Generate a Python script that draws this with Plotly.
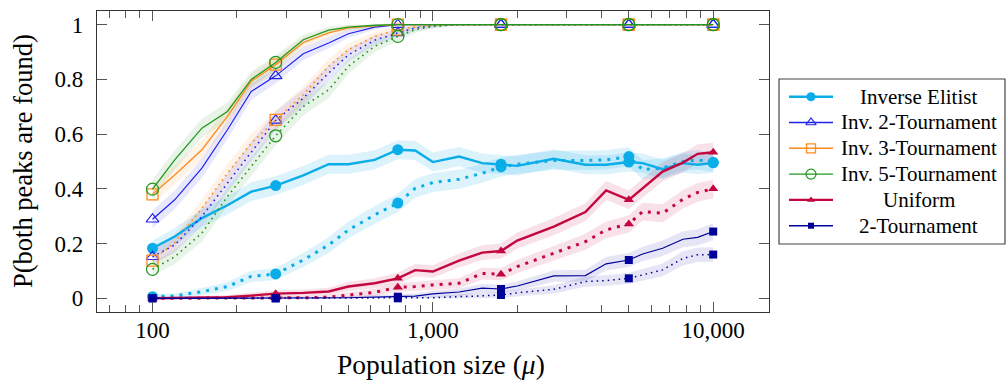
import plotly.graph_objects as go
import numpy as np

# ---------------- data ----------------
pop_size = [100, 120, 150, 185, 225, 275, 345, 425, 500, 620, 750, 865, 1000,
            1240, 1500, 1750, 2000, 2700, 3500, 4150, 5000, 5600, 6600, 7800, 8800, 10000]

ie_solid = [0.183, 0.226, 0.293, 0.340, 0.390, 0.412, 0.449, 0.490, 0.490, 0.506, 0.543, 0.540, 0.498,
            0.518, 0.494, 0.490, 0.484, 0.510, 0.488, 0.488, 0.498, 0.494, 0.472, 0.494, 0.488, 0.495]
ie_dotted = [0.006, 0.009, 0.024, 0.043, 0.080, 0.089, 0.140, 0.195, 0.250, 0.305, 0.348, 0.402, 0.423,
             0.435, 0.457, 0.480, 0.490, 0.504, 0.504, 0.506, 0.518, 0.470, 0.476, 0.500, 0.506, 0.497]

inv2_solid = [0.289, 0.360, 0.476, 0.616, 0.756, 0.813, 0.894, 0.933, 0.967, 0.991, 1.0, 1.0, 1.0,
              1.0, 1.0, 1.0, 1.0, 1.0, 1.0, 1.0, 1.0, 1.0, 1.0, 1.0, 1.0, 1.0]
inv2_dotted = [0.152, 0.195, 0.299, 0.420, 0.537, 0.650, 0.732, 0.823, 0.890, 0.943, 0.970, 0.988, 0.996,
               1.0, 1.0, 1.0, 1.0, 1.0, 1.0, 1.0, 1.0, 1.0, 1.0, 1.0, 1.0, 1.0]

inv3_solid = [0.380, 0.451, 0.543, 0.665, 0.793, 0.854, 0.935, 0.970, 0.988, 0.996, 1.0, 1.0, 1.0,
              1.0, 1.0, 1.0, 1.0, 1.0, 1.0, 1.0, 1.0, 1.0, 1.0, 1.0, 1.0, 1.0]
inv3_dotted = [0.138, 0.204, 0.329, 0.457, 0.567, 0.652, 0.744, 0.848, 0.909, 0.957, 0.982, 0.992, 0.998,
               1.0, 1.0, 1.0, 1.0, 1.0, 1.0, 1.0, 1.0, 1.0, 1.0, 1.0, 1.0, 1.0]

inv5_solid = [0.399, 0.506, 0.622, 0.683, 0.800, 0.862, 0.945, 0.980, 0.991, 0.998, 1.0, 1.0, 1.0,
              1.0, 1.0, 1.0, 1.0, 1.0, 1.0, 1.0, 1.0, 1.0, 1.0, 1.0, 1.0, 1.0]
inv5_dotted = [0.106, 0.152, 0.238, 0.372, 0.482, 0.594, 0.701, 0.762, 0.848, 0.921, 0.957, 0.982, 0.994,
               1.0, 1.0, 1.0, 1.0, 1.0, 1.0, 1.0, 1.0, 1.0, 1.0, 1.0, 1.0, 1.0]

uni_solid = [0.0, 0.001, 0.002, 0.004, 0.010, 0.017, 0.020, 0.025, 0.043, 0.055, 0.073, 0.103, 0.098,
             0.138, 0.167, 0.173, 0.211, 0.262, 0.315, 0.394, 0.360, 0.402, 0.463, 0.496, 0.528, 0.534]
uni_dotted = [0.0, 0.0, 0.0, 0.001, 0.001, 0.002, 0.002, 0.004, 0.012, 0.022, 0.040, 0.043, 0.049,
              0.055, 0.091, 0.088, 0.116, 0.165, 0.207, 0.250, 0.272, 0.317, 0.311, 0.362, 0.387, 0.400]

t2_solid = [0.0, 0.0, 0.0, 0.0, 0.0, 0.0, 0.0, 0.001, 0.002, 0.004, 0.006, 0.008, 0.016,
            0.023, 0.037, 0.034, 0.045, 0.082, 0.083, 0.126, 0.140, 0.162, 0.183, 0.216, 0.223, 0.244]
t2_dotted = [0.0, 0.0, 0.0, 0.0, 0.0, 0.0, 0.0, 0.0, 0.0, 0.0, 0.0, 0.001, 0.002,
             0.006, 0.010, 0.012, 0.020, 0.033, 0.061, 0.065, 0.073, 0.085, 0.104, 0.146, 0.159, 0.160]

names = ["Inverse Elitist", "Inv. 2-Tournament", "Inv. 3-Tournament",
         "Inv. 5-Tournament", "Uniform", "2-Tournament"]
x_ticks = [100, 1000, 10000]
x_tick_text = ["100", "1,000", "10,000"]
y_ticks = [0, 0.2, 0.4, 0.6, 0.8, 1.0]
y_tick_text = ["0", "0.2", "0.4", "0.6", "0.8", "1"]
runs = 1000  # runs per point used for the shaded confidence bands

# ---------------- styles ----------------
FONT = "Liberation Serif"
styles = [
    dict(color="#0AADE8", rgb=(10, 173, 232), w=2.4, dw=3.0, dash="3px,6px", sym="circle", size=11, lw=0, band=0.14),
    dict(color="#2222EE", rgb=(34, 34, 238), w=1.2, dw=1.6, dash="1.6px,4px", sym="triangle-up-open", size=11, lw=1.2, band=0.10),
    dict(color="#FF8A1E", rgb=(255, 138, 30), w=1.3, dw=1.6, dash="1.6px,4px", sym="square-open", size=11, lw=1.3, band=0.10),
    dict(color="#1E981E", rgb=(30, 152, 30), w=1.3, dw=1.6, dash="1.6px,4px", sym="circle-open", size=12, lw=1.2, band=0.10),
    dict(color="#C4063F", rgb=(196, 6, 63), w=2.4, dw=3.0, dash="3px,6px", sym="triangle-up", size=9, lw=0, band=0.12),
    dict(color="#00009A", rgb=(0, 0, 154), w=1.2, dw=1.5, dash="1.5px,4px", sym="square", size=8, lw=0, band=0.10),
]
series = [(ie_solid, ie_dotted), (inv2_solid, inv2_dotted), (inv3_solid, inv3_dotted),
          (inv5_solid, inv5_dotted), (uni_solid, uni_dotted), (t2_solid, t2_dotted)]

fig = go.Figure()
xs = np.array(pop_size, dtype=float)

# bands first
for (sol, dot), st in zip(series, styles):
    for vals in (sol, dot):
        p = np.array(vals)
        hw = 1.96 * np.sqrt(p * (1 - p) / runs) + 0.004 * (p > 0.001) * (p < 0.999)
        lo = np.clip(p - hw, 0, 1)
        hi = np.clip(p + hw, 0, 1)
        r, g, b = st["rgb"]
        fig.add_trace(go.Scatter(
            x=np.concatenate([xs, xs[::-1]]), y=np.concatenate([hi, lo[::-1]]),
            fill="toself", fillcolor=f"rgba({r},{g},{b},{st['band']})",
            line=dict(width=0), mode="lines", hoverinfo="skip", showlegend=False))

# lines (dotted variants beneath solids)
mark_idx = list(range(0, len(pop_size), 5))
for (sol, dot), st in zip(series, styles):
    for vals, dash, w in ((dot, st["dash"], st["dw"]), (sol, "solid", st["w"])):
        fig.add_trace(go.Scatter(x=pop_size, y=vals, mode="lines",
                                 line=dict(color=st["color"], width=w, dash=dash),
                                 showlegend=False, hoverinfo="skip"))
        fig.add_trace(go.Scatter(
            x=[pop_size[i] for i in mark_idx], y=[vals[i] for i in mark_idx], mode="markers",
            marker=dict(symbol=st["sym"], size=st["size"], color=st["color"],
                        line=dict(width=st["lw"], color=st["color"])),
            showlegend=False, hoverinfo="skip"))

# ---------------- custom legend (pixel-like axes) ----------------
row_y = [17.7, 43.5, 69.3, 95.1, 120.9, 146.7]
for name, st, ry in zip(names, styles, row_y):
    fig.add_trace(go.Scatter(x=[10, 54], y=[ry, ry], mode="lines", xaxis="x2", yaxis="y2",
                             line=dict(color=st["color"], width=st["w"] if st["w"] > 2 else 1.4),
                             showlegend=False, hoverinfo="skip"))
    fig.add_trace(go.Scatter(x=[32], y=[ry], mode="markers", xaxis="x2", yaxis="y2",
                             marker=dict(symbol=st["sym"], size=st["size"] - 2, color=st["color"],
                                         line=dict(width=st["lw"], color=st["color"])),
                             showlegend=False, hoverinfo="skip"))
    fig.add_annotation(x=140, y=ry, xref="x2", yref="y2", text=name, showarrow=False,
                       xanchor="center", yanchor="middle",
                       font=dict(family=FONT, size=21, color="black"))

fig.add_shape(type="rect", xref="x2 domain", yref="y2 domain", x0=0, x1=1, y0=0, y1=1,
              line=dict(color="#444", width=1.2), fillcolor="rgba(0,0,0,0)")

axis_common = dict(showline=True, linecolor="#333", linewidth=1.2, mirror="ticks",
                   ticks="inside", tickcolor="#555", tickwidth=1, ticklen=10,
                   showgrid=False, zeroline=False,
                   tickfont=dict(family=FONT, size=23, color="black"))

minor_vals = [70, 80, 90] + [k * 100 for k in range(2, 10)] + [k * 1000 for k in range(2, 10)]
fig.update_layout(
    width=1007, height=383,
    margin=dict(l=97, r=2, t=11, b=71),
    paper_bgcolor="white", plot_bgcolor="white",
    showlegend=False,
    font=dict(family=FONT),
    xaxis=dict(type="log", range=[1.802, 4.199], domain=[0, 0.74009],
               tickmode="array", tickvals=x_ticks, ticktext=x_tick_text,
               minor=dict(tickvals=minor_vals, ticks="inside", ticklen=7, tickcolor="#555", showgrid=False),
               ticklabelstandoff=-3, **axis_common),
    yaxis=dict(range=[-0.05, 1.05], tickmode="array", tickvals=y_ticks, ticktext=y_tick_text,
               ticklabelstandoff=8, **axis_common),
    xaxis2=dict(domain=[0.7511, 1.0], range=[0, 226], visible=False, fixedrange=True),
    yaxis2=dict(domain=[0.22591, 0.77409], range=[165, 0], visible=False, fixedrange=True,
                anchor="x2"),
)

fig.add_annotation(text="Population size (<i>μ</i>)", xref="paper", yref="paper",
                   x=(441 - 97) / 908, y=(312 - 364) / 301, xanchor="center", yanchor="middle",
                   showarrow=False, font=dict(family=FONT, size=27.5, color="black"))
fig.add_annotation(text="P(both peaks are found)", xref="paper", yref="paper",
                   x=(23 - 97) / 908, y=(312 - 161) / 301, xanchor="center", yanchor="middle",
                   textangle=-90, showarrow=False, font=dict(family=FONT, size=26.5, color="black"))

fig.write_html("out.html")
